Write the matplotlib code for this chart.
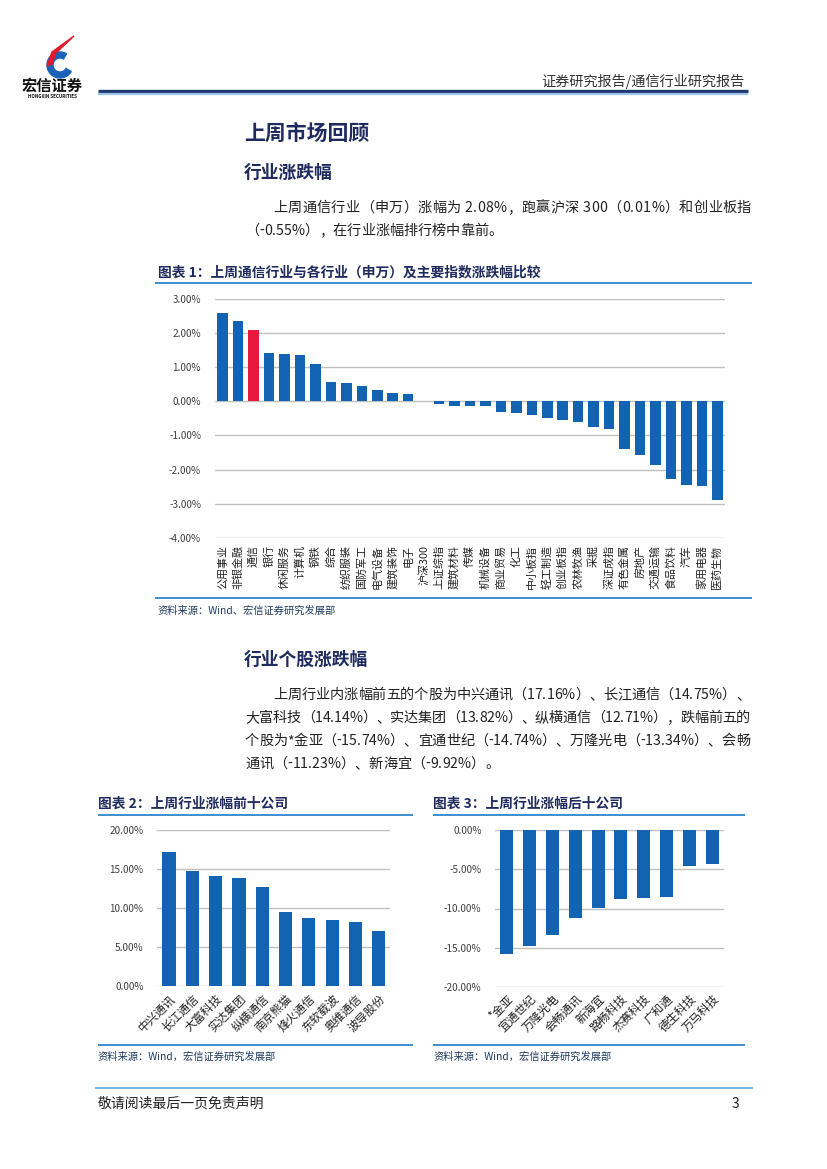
import matplotlib
matplotlib.use("Agg")
import matplotlib.pyplot as plt
from matplotlib.lines import Line2D
from matplotlib.patches import Wedge, Polygon
from matplotlib.font_manager import FontProperties
import numpy as np

plt.rcParams['font.family'] = ['Noto Sans CJK SC', 'DejaVu Sans']

# ---------------- data ----------------
ind_cats = ['公用事业', '非银金融', '通信', '银行', '休闲服务', '计算机', '钢铁', '综合',
            '纺织服装', '国防军工', '电气设备', '建筑装饰', '电子', '沪深300', '上证综指',
            '建筑材料', '传媒', '机械设备', '商业贸易', '化工', '中小板指', '轻工制造',
            '创业板指', '农林牧渔', '采掘', '深证成指', '有色金属', '房地产', '交通运输',
            '食品饮料', '汽车', '家用电器', '医药生物']
ind_vals = [2.58, 2.35, 2.08, 1.41, 1.38, 1.35, 1.08, 0.57, 0.54, 0.45, 0.34, 0.25, 0.22,
            0.01, -0.08, -0.13, -0.15, -0.15, -0.31, -0.33, -0.39, -0.49, -0.55, -0.61,
            -0.74, -0.82, -1.41, -1.58, -1.88, -2.27, -2.46, -2.49, -2.88]
highlight = '通信'
ind_yticks = [3, 2, 1, 0, -1, -2, -3, -4]

top_cats = ['中兴通讯', '长江通信', '大富科技', '实达集团', '纵横通信', '南京熊猫',
            '烽火通信', '东软载波', '奥维通信', '波导股份']
top_vals = [17.16, 14.75, 14.14, 13.82, 12.71, 9.45, 8.77, 8.43, 8.18, 7.12]
top_yticks = [0, 5, 10, 15, 20]

bot_cats = ['*金亚', '宜通世纪', '万隆光电', '会畅通讯', '新海宜', '路畅科技',
            '杰赛科技', '广和通', '德生科技', '万马科技']
bot_vals = [-15.74, -14.74, -13.34, -11.23, -9.92, -8.78, -8.66, -8.53, -4.62, -4.29]
bot_yticks = [0, -5, -10, -15, -20]

# ---------------- styles ----------------
W, H = 827, 1169
BLUE = '#1264B3'
RED = '#E8193C'
NAVY = '#1F2A5E'
GRID = '#BFBFBF'
TICK = '#404040'
LBLUE = '#3C8DD0'
BODY = '#222222'

fig = plt.figure(figsize=(W / 100, H / 100), dpi=100)
fig.patch.set_facecolor('white')
renderer = fig.canvas.get_renderer()


def fx(x):
    return x / W


def fy(y):
    return 1 - y / H


def txt(x, y, s, **kw):
    kw.setdefault('va', 'center')
    fig.text(fx(x), fy(y), s, **kw)


def hline(x0, x1, y, color, lw):
    fig.add_artist(Line2D([fx(x0), fx(x1)], [fy(y), fy(y)], color=color, lw=lw,
                          solid_capstyle='butt'))


def ax_px(l, t, r, b):
    return fig.add_axes([fx(l), fy(b), (r - l) / W, (b - t) / H])


def char_w(c, fs):
    prop = FontProperties(family=['Noto Sans CJK SC', 'DejaVu Sans'], size=fs)
    if c == ' ':
        w = renderer.get_text_width_height_descent('a a', prop, ismath=False)[0] - \
            renderer.get_text_width_height_descent('aa', prop, ismath=False)[0]
        return w
    return renderer.get_text_width_height_descent(c, prop, ismath=False)[0]


def justified(x0, x1, y, s, fs, color=BODY, justify=True):
    widths = [char_w(c, fs) for c in s]
    total = sum(widths)
    gap = (x1 - x0 - total) / (len(s) - 1) if (justify and len(s) > 1) else 0.0
    x = x0
    for c, w in zip(s, widths):
        if c != ' ':
            txt(x, y, c, fontsize=fs, color=color, ha='left')
        x += w + gap


# ---------------- header ----------------
logo = fig.add_axes([fx(38), fy(80), 40 / W, 45 / H])
logo.set_xlim(0, 40)
logo.set_ylim(0, 45)
logo.axis('off')
logo.add_patch(Wedge((22, 15), 13, 60, 330, width=6, color='#1B63B8'))
logo.add_patch(Polygon([[36, 44], [14, 28], [9, 14], [14, 16], [18, 27]], closed=True,
                       color='#E11B2C'))
txt(52, 86, '宏信证券', fontsize=11, fontweight='bold', color='#111111', ha='center')
txt(52, 97, 'HONGXIN SECURITIES', fontsize=3.3, fontweight='bold', color='#111111', ha='center')

txt(745, 81, '证券研究报告/通信行业研究报告', fontsize=10.2, color='#333333', ha='right')
hline(98, 748, 90.5, '#1F3A70', 2.4)
hline(98, 748, 94, '#9DC3E6', 1.6)

# ---------------- section texts ----------------
FS = 10.2
txt(244, 133, '上周市场回顾', fontsize=15, fontweight='bold', color=NAVY)
txt(244, 173, '行业涨跌幅', fontsize=12.8, fontweight='bold', color=NAVY)
justified(273, 751, 208, '上周通信行业（申万）涨幅为 2.08%，跑赢沪深 300（0.01%）和创业板指', FS)
justified(245, 751, 231, '（-0.55%），在行业涨幅排行榜中靠前。', FS, justify=False)

# ---------------- chart 1 ----------------
txt(158, 272, '图表 1：上周通信行业与各行业（申万）及主要指数涨跌幅比较', fontsize=9.9,
    fontweight='heavy', color=NAVY)
hline(155, 752, 283, LBLUE, 1.4)

ax1 = ax_px(215, 299, 725, 537.7)
x1 = np.arange(len(ind_cats))
cols1 = [RED if c == highlight else BLUE for c in ind_cats]
ax1.bar(x1, ind_vals, width=0.68, color=cols1, zorder=3)
ax1.set_xlim(-0.5, len(ind_cats) - 0.5)
ax1.set_ylim(-4, 3)
ax1.set_yticks(ind_yticks)
ax1.set_yticklabels([f'{v:.2f}%' for v in ind_yticks], fontsize=7.2, color=TICK)
ax1.set_xticks(x1)
ax1.set_xticklabels(ind_cats, rotation=90, fontsize=7.9, color=BODY)
ax1.tick_params(length=0, axis='y', pad=10)
ax1.tick_params(length=0, axis='x', pad=5)
ax1.grid(axis='y', color=GRID, lw=1.0, zorder=0)
for s in ax1.spines.values():
    s.set_visible(False)

hline(155, 752, 598, LBLUE, 1.4)
txt(158, 611, '资料来源：Wind、宏信证券研究发展部', fontsize=7.4, color='#1F3A60')

# ---------------- section 2 text ----------------
txt(244, 660, '行业个股涨跌幅', fontsize=12.8, fontweight='bold', color=NAVY)
justified(273, 750, 695, '上周行业内涨幅前五的个股为中兴通讯（17.16%）、长江通信（14.75%）、', FS)
justified(245, 750, 718, '大富科技（14.14%）、实达集团（13.82%）、纵横通信（12.71%），跌幅前五的', FS)
justified(245, 750, 741, '个股为*金亚（-15.74%）、宜通世纪（-14.74%）、万隆光电（-13.34%）、会畅', FS)
justified(245, 750, 764, '通讯（-11.23%）、新海宜（-9.92%）。', FS, justify=False)

# ---------------- chart 2 ----------------
txt(98, 804, '图表 2：上周行业涨幅前十公司', fontsize=9.9, fontweight='heavy', color=NAVY)
hline(98, 413, 814.5, LBLUE, 1.4)

ax2 = ax_px(157.4, 829.6, 390.4, 986.4)
x2 = np.arange(len(top_cats))
ax2.bar(x2, top_vals, width=0.57, color=BLUE, zorder=3)
ax2.set_xlim(-0.5, len(top_cats) - 0.5)
ax2.set_ylim(0, 20)
ax2.set_yticks(top_yticks)
ax2.set_yticklabels([f'{v:.2f}%' for v in top_yticks], fontsize=7.2, color=TICK)
ax2.set_xticks(x2)
ax2.set_xticklabels(top_cats, rotation=45, ha='right', va='top', rotation_mode='anchor',
                    fontsize=8.4, color=BODY)
ax2.tick_params(length=0, axis='y', pad=10)
ax2.tick_params(length=0, axis='x', pad=4)
ax2.grid(axis='y', color=GRID, lw=1.0, zorder=0)
for s in ax2.spines.values():
    s.set_visible(False)

hline(98, 413, 1045, LBLUE, 1.4)
txt(98, 1057, '资料来源：Wind，宏信证券研究发展部', fontsize=7.4, color='#1F3A60')

# ---------------- chart 3 ----------------
txt(433, 804, '图表 3：上周行业涨幅后十公司', fontsize=9.9, fontweight='heavy', color=NAVY)
hline(433, 745, 814.5, LBLUE, 1.4)

ax3 = ax_px(495.4, 830, 723.6, 987)
x3 = np.arange(len(bot_cats))
ax3.bar(x3, bot_vals, width=0.57, color=BLUE, zorder=3)
ax3.set_xlim(-0.5, len(bot_cats) - 0.5)
ax3.set_ylim(-20, 0)
ax3.set_yticks(bot_yticks)
ax3.set_yticklabels([f'{v:.2f}%' for v in bot_yticks], fontsize=7.2, color=TICK)
ax3.set_xticks(x3)
ax3.set_xticklabels(bot_cats, rotation=45, ha='right', va='top', rotation_mode='anchor',
                    fontsize=8.4, color=BODY)
ax3.tick_params(length=0, axis='y', pad=10)
ax3.tick_params(length=0, axis='x', pad=4)
ax3.grid(axis='y', color=GRID, lw=1.0, zorder=0)
for s in ax3.spines.values():
    s.set_visible(False)

hline(433, 745, 1045, LBLUE, 1.4)
txt(433, 1057, '资料来源：Wind，宏信证券研究发展部', fontsize=7.4, color='#1F3A60')

# ---------------- footer ----------------
hline(95, 753, 1088, '#5FA8DC', 1.2)
txt(98, 1104, '敬请阅读最后一页免责声明', fontsize=10, color=BODY)
txt(739, 1104, '3', fontsize=10, color=BODY, ha='right')

fig.savefig('out.png', dpi=100, facecolor='white')
